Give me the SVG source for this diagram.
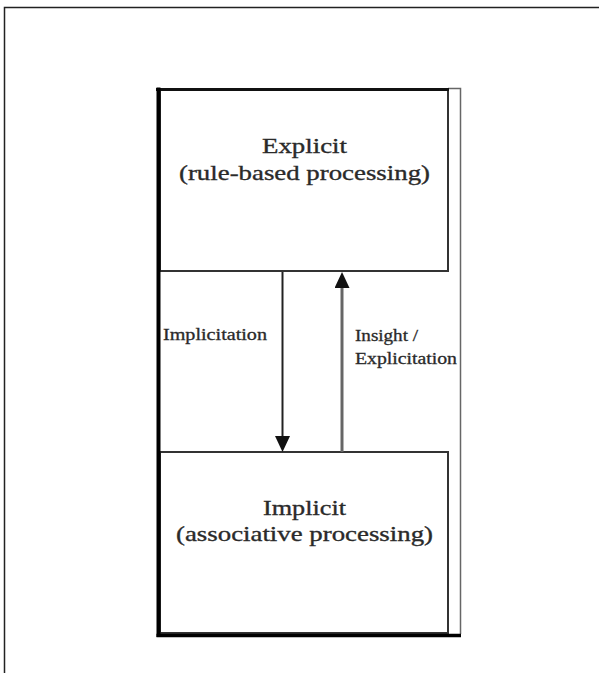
<svg xmlns="http://www.w3.org/2000/svg" width="599" height="673" viewBox="0 0 599 673">
<style>
.big{font-family:'Liberation Serif','Times New Roman',Times,serif;font-size:22px;fill:#2a2a2a;stroke:#2a2a2a;stroke-width:0.35;text-anchor:middle}
.small{font-family:'Liberation Serif','Times New Roman',Times,serif;font-size:16px;fill:#2a2a2a;stroke:#2a2a2a;stroke-width:0.3}
.box{fill:#fff;stroke:#333;stroke-width:2}
</style>
<defs>
<marker id="head" viewBox="0 0 16 15" refX="0" refY="7.5" markerWidth="16" markerHeight="15" markerUnits="userSpaceOnUse" orient="auto">
<path d="M0,0 L16,7.5 L0,15 z" fill="#111"/>
</marker>
</defs>
<rect width="599" height="673" fill="#fff"/>
<path d="M4.5,680 V7.5 H610" fill="none" stroke="#222" stroke-width="1.5"/>
<g id="frame">
<path d="M448,88.5 H460.5 V634" fill="none" stroke="#666" stroke-width="1.5"/>
</g>
<g id="explicit">
<rect class="box" x="160" y="90" width="288" height="181"/>
<path d="M156,89.5 H449" stroke="#111" stroke-width="3"/>
<text class="big" x="304.5" y="153" textLength="85" lengthAdjust="spacingAndGlyphs">Explicit</text>
<text class="big" x="304.5" y="180" textLength="251" lengthAdjust="spacingAndGlyphs">(rule-based processing)</text>
</g>
<g id="implicit">
<rect class="box" x="160" y="452" width="288" height="181"/>
<text class="big" x="304.5" y="515" textLength="83" lengthAdjust="spacingAndGlyphs">Implicit</text>
<text class="big" x="304.5" y="541" textLength="257" lengthAdjust="spacingAndGlyphs">(associative processing)</text>
</g>
<g id="border">
<path d="M158.5,87.5 V637" stroke="#000" stroke-width="4"/>
<path d="M156.5,635.5 H461" stroke="#000" stroke-width="3.5"/>
</g>
<g id="connectors">
<line x1="282.5" y1="272" x2="282.5" y2="436" stroke="#222" stroke-width="2" marker-end="url(#head)"/>
<line x1="342" y1="452" x2="342" y2="288" stroke="#666" stroke-width="3" marker-end="url(#head)"/>
<text class="small" x="163" y="340" textLength="104" lengthAdjust="spacingAndGlyphs">Implicitation</text>
<text class="small" x="355" y="341" textLength="63" lengthAdjust="spacingAndGlyphs">Insight /</text>
<text class="small" x="355" y="364" textLength="102" lengthAdjust="spacingAndGlyphs">Explicitation</text>
</g>
</svg>
